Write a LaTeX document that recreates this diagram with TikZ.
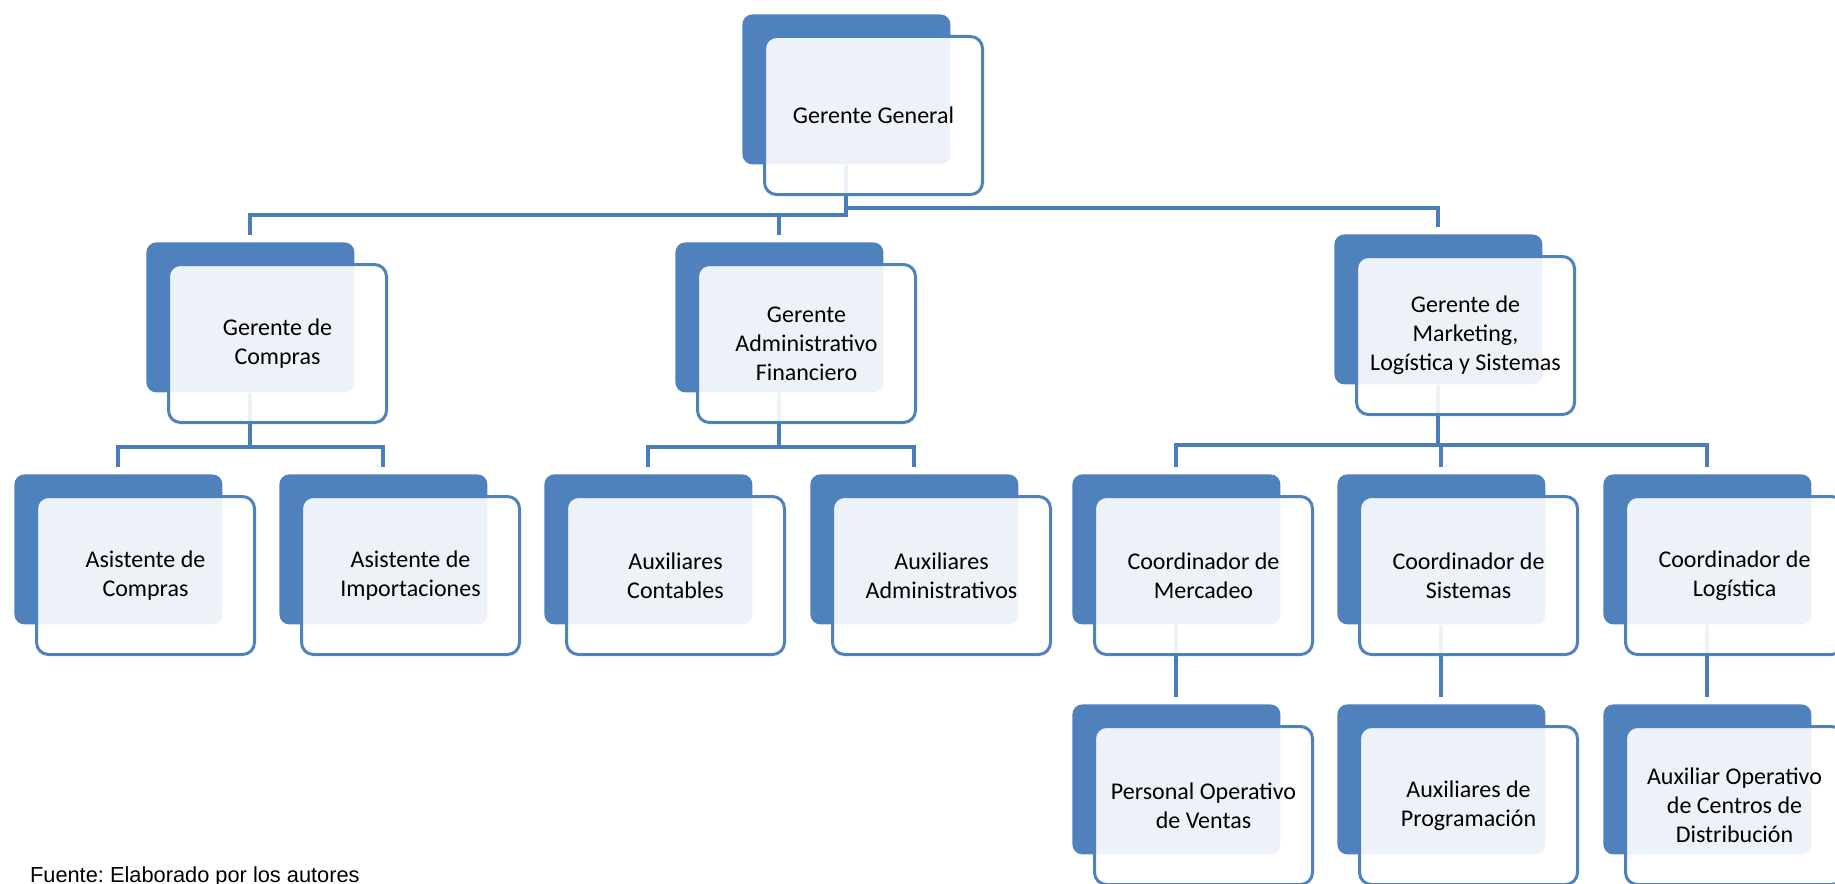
\documentclass[tikz,border=0pt]{standalone}
\usepackage{fontspec}
\setmainfont{Carlito}
\newfontfamily\srcfont{Liberation Sans}
\usetikzlibrary{backgrounds}
\definecolor{orgblue}{HTML}{4F81BD}
\definecolor{linkblue}{HTML}{4A7EBB}
\tikzset{
  darkbox/.style={anchor=north west, fill=orgblue, rounded corners=5pt,
    minimum width=104pt, minimum height=75pt, inner sep=0pt},
  frontbox/.style={anchor=north west, draw=orgblue, line width=1.5pt, fill=white,
    fill opacity=0.9, text opacity=1, rounded corners=6pt, minimum width=109pt,
    minimum height=79pt, inner sep=0pt, align=center,
    font=\fontsize{12}{14.5}\selectfont},
  link/.style={draw=linkblue, line width=2pt, shorten >=3.5pt}
}
\begin{document}
\begin{tikzpicture}[x=0.5pt, y=-0.5pt]
  \useasboundingbox (0,0) rectangle (1835,883);
  % cajas: nombre/x/y/texto
  \foreach \n/\x/\y/\txt in {gg/742/14/{Gerente General},
      gc/146/242/{Gerente de\\Compras},
      ga/675/242/{Gerente\\Administrativo\\Financiero},
      gm/1334/234/{Gerente de\\Marketing,\\Logística y Sistemas},
      ac/14/474/{Asistente de\\Compras},
      ai/279/474/{Asistente de\\Importaciones},
      xc/544/474/{Auxiliares\\Contables},
      xa/810/474/{Auxiliares\\Administrativos},
      cm/1072/474/{Coordinador de\\Mercadeo},
      cs/1337/474/{Coordinador de\\Sistemas},
      cl/1603/474/{Coordinador de\\Logística},
      pv/1072/704/{Personal Operativo\\de Ventas},
      ap/1337/704/{Auxiliares de\\Programación},
      ao/1603/704/{Auxiliar Operativo\\de Centros de\\Distribución}}
  {
    \node[darkbox] (\n-b) at (\x,\y) {};
    \node[frontbox] (\n) at (\x+21,\y+21) {\txt};
  }
  \begin{pgfonlayer}{background}
    \draw[link] (gg-b.south) -- (gg-b.south |- 0,215) -| (gc-b.north);
    \draw[link] (ga-b.north |- 0,215) -- (ga-b.north);
    \draw[link] (gg-b.south |- 0,208) -| (gm-b.north);
    \foreach \p/\l/\r/\h in {gc/ac/ai/447, ga/xc/xa/447, gm/cm/cl/445}
    {
      \draw[link] (\p-b.south) -- (\p-b.south |- 0,\h) -| (\l-b.north);
      \draw[link] (\p-b.south |- 0,\h) -| (\r-b.north);
    }
    \draw[link] (cs-b.north |- 0,445) -- (cs-b.north);
    \foreach \a/\b in {cm/pv, cs/ap, cl/ao}
      \draw[link] (\a-b.south) -- (\b-b.north);
  \end{pgfonlayer}
  \node[anchor=base west, font=\srcfont\fontsize{10.9}{13}\selectfont] (src) at (23,882)
    {\frenchspacing Fuente: Elaborado por los autores};
\end{tikzpicture}
\end{document}
